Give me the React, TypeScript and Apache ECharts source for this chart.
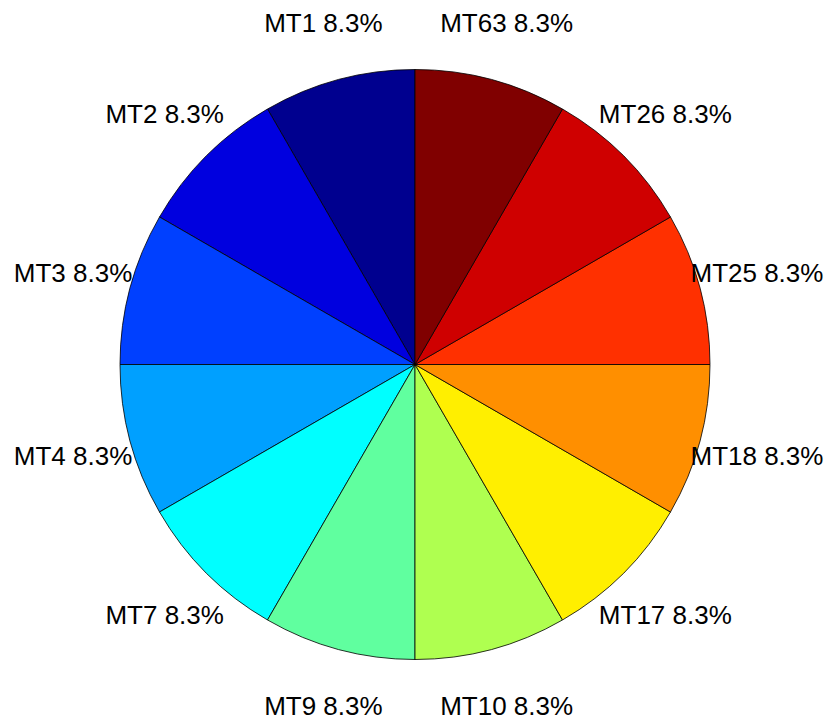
import React, { useEffect, useRef } from "react";
import * as echarts from "echarts";

const categories = ["MT1", "MT2", "MT3", "MT4", "MT7", "MT9", "MT10", "MT17", "MT18", "MT25", "MT26", "MT63"];
const values = [1, 1, 1, 1, 1, 1, 1, 1, 1, 1, 1, 1];
const colors = ["#00008F", "#0000DF", "#0040FF", "#00A0FF", "#00FFFF", "#60FF9F", "#AFFF50", "#FFEF00", "#FF8F00", "#FF3000", "#CF0000", "#800000"];

const CX = 415;
const CY = 364.5;
const R = 295;

export default function App() {
  const ref = useRef<HTMLDivElement>(null);
  useEffect(() => {
    document.body.style.margin = "0";
    const chart = echarts.init(ref.current!, undefined, { renderer: "svg" });
    const total = values.reduce((a, b) => a + b, 0);
    const cum: number[] = [];
    let acc = 0;
    values.forEach((v) => {
      cum.push(acc + v / 2);
      acc += v;
    });
    chart.setOption({
      animation: false,
      backgroundColor: "#ffffff",
      series: [
        {
          type: "pie",
          center: [CX, CY],
          radius: [0, R],
          startAngle: 90,
          clockwise: false,
          data: categories.map((c, i) => ({
            name: c,
            value: values[i],
            itemStyle: { color: colors[i] },
          })),
          itemStyle: { borderColor: "#000000", borderWidth: 0.8 },
          label: {
            show: true,
            position: "outside",
            formatter: (p: any) => `${p.name} ${((p.value / total) * 100).toFixed(1)}%`,
            fontFamily: "Liberation Sans, Arial, sans-serif",
            fontSize: 26,
            color: "#000000",
            overflow: "none",
            width: 200,
          },
          labelLine: { show: false },
          labelLayout: (params: any) => {
            const i = params.dataIndex;
            const ang = Math.PI / 2 + (cum[i] / total) * Math.PI * 2;
            return {
              x: CX + 1.2 * R * Math.cos(ang),
              y: CY - 1.2 * R * Math.sin(ang),
              align: "center",
              verticalAlign: "middle",
              width: 200,
            };
          },
          emphasis: { disabled: true },
        },
      ],
    });
    return () => chart.dispose();
  }, []);
  return <div ref={ref} style={{ width: 830, height: 720 }} />;
}
